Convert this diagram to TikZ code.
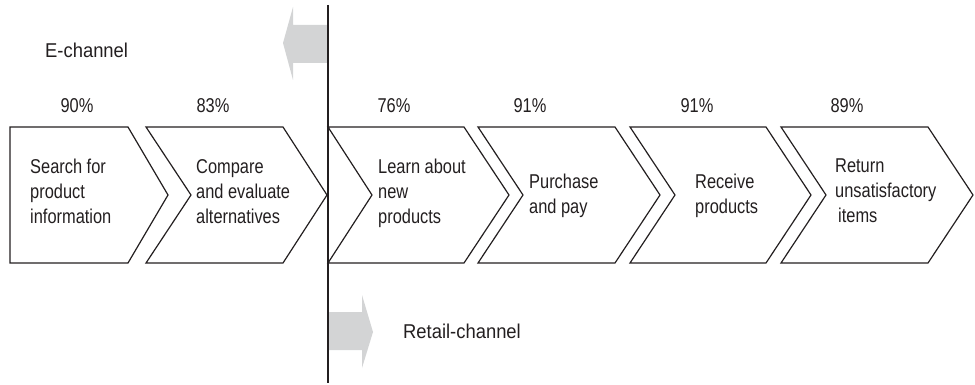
\documentclass[tikz,border=0pt]{standalone}
\usepackage{fontspec}
\setmainfont{Liberation Sans}[FakeStretch=0.82]
\newfontfamily\widesans{Liberation Sans}[FakeStretch=0.92]
\definecolor{ink}{RGB}{35,31,32}
\definecolor{arrowgrey}{RGB}{211,212,213}
\begin{document}
\begin{tikzpicture}[x=1pt,y=-1pt,
        stage/.style={draw=ink,line width=1.2pt,line join=miter},
        steptext/.style={anchor=north west,inner sep=0pt,align=left,text=ink,
            font=\fontsize{20}{25}\selectfont},
        pct/.style={anchor=base,inner sep=0pt,text=ink,font=\fontsize{20}{25}\selectfont},
        channel/.style={anchor=base west,inner sep=0pt,text=ink,
            font=\widesans\fontsize{20}{25}\selectfont}]
    \useasboundingbox (0,0) rectangle (975,385);

    % grey direction arrows on either side of the divider
    \fill[arrowgrey] (328,25) -- (293,25) -- (293,7) -- (283,43) -- (293,80) -- (293,63) -- (328,63) -- cycle;
    \fill[arrowgrey] (328,312) -- (362,312) -- (362,295) -- (373,332) -- (362,368) -- (362,350) -- (328,350) -- cycle;

    % the six stages
    \draw[stage] (10,127) -- (128,127) -- (168,195) -- (128,263) -- (10,263) -- cycle;
    \draw[stage] (146,127) -- (283,127) -- (327,195) -- (283,263) -- (146,263) -- (191,195) -- cycle;
    \draw[stage] (328,127) -- (464,127) -- (509,195) -- (464,263) -- (328,263) -- (372,195) -- cycle;
    \draw[stage] (478,127) -- (615,127) -- (660,195) -- (615,263) -- (478,263) -- (523,195) -- cycle;
    \draw[stage] (630,127) -- (766,127) -- (811,195) -- (766,263) -- (630,263) -- (675,195) -- cycle;
    \draw[stage] (781,127) -- (928,127) -- (973,195) -- (928,263) -- (781,263) -- (826,195) -- cycle;

    % divider between the two channels
    \coordinate (divtop) at (328,5);
    \coordinate (divbot) at (328,383);
    \draw[ink,line width=1.5pt] (divtop) -- (divbot);

    \node[steptext] (search) at (30,159) {Search for\\product\\information};
    \node[steptext] (compare) at (196,159) {Compare\\and evaluate\\alternatives};
    \node[steptext] (learn) at (378,159) {Learn about\\new\\products};
    \node[steptext] (purchase) at (529,174) {Purchase\\and pay};
    \node[steptext] (receive) at (695,174) {Receive\\products};
    \node[steptext] (return) at (835,159) {Return\\unsatisfactory\\\hspace*{3pt}items};

    \node[pct] (p1) at (77,113) {90\%};
    \node[pct] (p2) at (213,113) {83\%};
    \node[pct] (p3) at (394,113) {76\%};
    \node[pct] (p4) at (530,113) {91\%};
    \node[pct] (p5) at (697,113) {91\%};
    \node[pct] (p6) at (847,113) {89\%};

    \node[channel] (echan) at (45,58) {E-channel};
    \node[channel] (rchan) at (403,338) {Retail-channel};
\end{tikzpicture}
\end{document}
